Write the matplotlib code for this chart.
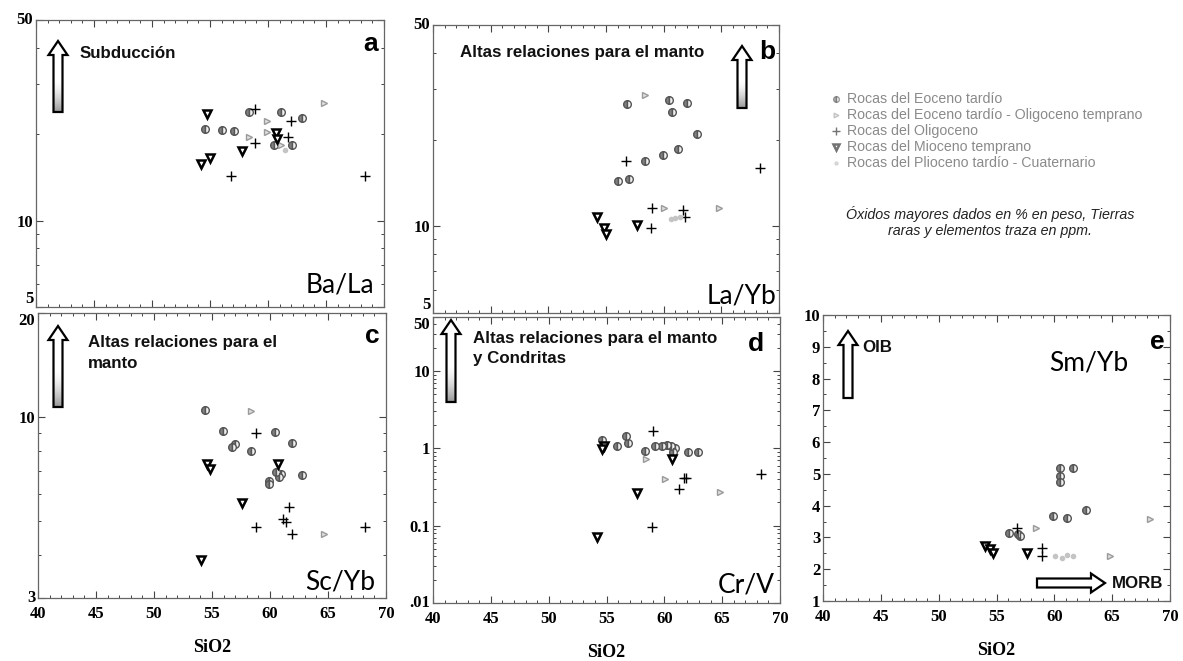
import numpy as np
import matplotlib
matplotlib.use("Agg")
import matplotlib.pyplot as plt
from matplotlib.patches import FancyArrow
from matplotlib.ticker import MultipleLocator, NullFormatter, LogLocator

W, H = 1183, 661

# --- data: (SiO2, ratio) per rock group ---
series_names = ["eoc", "eoc_oli", "oli", "mio", "plio"]
series_labels = [
    "Rocas del Eoceno tardío",
    "Rocas del Eoceno tardío - Oligoceno temprano",
    "Rocas del Oligoceno",
    "Rocas del Mioceno temprano",
    "Rocas del Plioceno tardío - Cuaternario",
]

ba_la = {
    "eoc": ([54.6, 56.05, 57.05, 58.4, 61.15, 62.9, 60.5, 62.1],
            [20.9, 20.7, 20.6, 23.9, 23.9, 22.8, 18.3, 18.3]),
    "eoc_oli": ([58.4, 59.9, 59.9, 61.1, 64.8],
                [19.6, 22.2, 20.4, 18.3, 25.6]),
    "oli": ([56.8, 58.9, 58.9, 62.0, 61.7, 68.4],
            [14.3, 24.4, 18.6, 22.2, 19.6, 14.3]),
    "mio": ([54.76, 54.2, 55.0, 57.8, 60.7, 60.8],
            [23.5, 15.8, 16.5, 17.5, 20.2, 19.2]),
    "plio": ([61.5], [17.6]),
}

la_yb = {
    "eoc": ([56.86, 60.45, 62.0, 60.76, 62.87, 61.2, 59.9, 58.4, 56.0, 57.0],
            [26.5, 27.4, 26.9, 25.0, 20.9, 18.6, 17.7, 16.9, 14.4, 14.6]),
    "eoc_oli": ([58.4, 60.04, 64.83], [28.5, 11.6, 11.6]),
    "oli": ([56.75, 68.36, 58.97, 61.7, 61.86, 58.9],
            [16.9, 16.0, 11.6, 11.4, 10.8, 9.85]),
    "mio": ([54.2, 54.8, 55.0, 57.67], [10.8, 9.9, 9.4, 10.1]),
    "plio": ([60.6, 61.0, 61.4], [10.6, 10.7, 10.8]),
}

sc_yb = {
    "eoc": ([54.36, 55.93, 60.39, 61.9, 56.94, 56.7, 58.37, 60.5, 60.96, 60.76, 59.9, 59.95, 62.77],
            [10.5, 9.1, 9.05, 8.4, 8.35, 8.2, 8.0, 6.93, 6.85, 6.7, 6.55, 6.4, 6.8]),
    "eoc_oli": ([58.37, 64.69], [10.4, 4.6]),
    "oli": ([58.8, 61.62, 61.16, 61.4, 58.8, 61.9, 68.22],
            [9.0, 5.48, 5.06, 4.97, 4.82, 4.6, 4.8]),
    "mio": ([54.6, 54.85, 60.67, 57.6, 54.07], [7.3, 7.1, 7.3, 5.63, 3.86]),
    "plio": ([], []),
}

cr_v = {
    "eoc": ([54.65, 55.9, 56.7, 56.87, 58.3, 59.2, 59.76, 60.2, 60.6, 60.9, 60.75, 62.06, 62.93],
            [1.30, 1.07, 1.44, 1.18, 0.92, 1.07, 1.07, 1.09, 1.07, 1.02, 0.91, 0.91, 0.89]),
    "eoc_oli": ([58.4, 64.8, 60.05], [0.72, 0.27, 0.40]),
    "oli": ([58.98, 68.4, 61.7, 61.86, 61.3, 58.9],
            [1.70, 0.47, 0.415, 0.415, 0.30, 0.096]),
    "mio": ([54.77, 54.65, 60.7, 57.65, 54.19], [1.07, 0.97, 0.72, 0.265, 0.071]),
    "plio": ([], []),
}

sm_yb = {
    "eoc": ([60.5, 60.45, 60.5, 61.65, 62.75, 59.87, 61.08, 56.04, 56.9, 57.05],
            [5.2, 4.94, 4.75, 5.2, 3.87, 3.68, 3.6, 3.13, 3.1, 3.03]),
    "eoc_oli": ([58.43, 68.27, 64.8], [3.31, 3.57, 2.42]),
    "oli": ([56.76, 58.9, 58.9], [3.31, 2.68, 2.42]),
    "mio": ([54.0, 54.45, 54.74, 57.6], [2.73, 2.63, 2.52, 2.5]),
    "plio": ([60.07, 60.65, 61.08, 61.65], [2.42, 2.36, 2.44, 2.42]),
}

styles = {
    "eoc": dict(marker="o", ms=5.5, fillstyle="left", mfc="#808080", mfcalt="#f0f0f0", mec="#555555", mew=1.0),
    "eoc_oli": dict(marker=">", ms=4.5, mfc="#e0e0e0", mec="#9a9a9a", mew=1.0),
    "oli": dict(marker="+", ms=7, mec="black", mew=1.0),
    "mio": dict(marker="v", ms=5.5, mfc="white", mec="black", mew=1.8),
    "plio": dict(marker="o", ms=3, mfc="#c4c4c4", mec="#c4c4c4"),
}

tick_font = dict(family="Liberation Serif", weight="bold", size=12)
sans_bold = "Liberation Sans"


def px_axes(fig, l, t, r, b):
    return fig.add_axes([l / W, 1 - b / H, (r - l) / W, (b - t) / H])


def style_axes(ax, show_x):
    ax.set_xlim(40, 70)
    ax.xaxis.set_major_locator(MultipleLocator(5))
    ax.xaxis.set_minor_locator(MultipleLocator(1))
    ax.tick_params(which="both", direction="in", top=True, right=True, colors="#444444",
                   labelcolor="black", pad=2)
    ax.tick_params(which="major", length=5, width=0.8)
    ax.tick_params(which="minor", length=2.5, width=0.7)
    for s in ax.spines.values():
        s.set_color("#666666")
        s.set_linewidth(0.9)
    if show_x:
        ax.set_xticks([40, 45, 50, 55, 60, 65, 70])
        ax.set_xticklabels(["40", "45", "50", "55", "60", "65", "70"], **tick_font)
        ax.tick_params(axis="x", pad=6)
        ax.set_xlabel("SiO2", family="Liberation Serif", weight="bold", size=13, labelpad=12)
    else:
        ax.tick_params(axis="x", labelbottom=False)


def plot_series(ax, data):
    for name in series_names:
        x, y = data[name]
        ax.plot(x, y, ls="none", color=styles[name].get("mec", "black"), **styles[name])


def log_y(ax, lo, hi, ticks, labels, low_va="center", high_va="center"):
    ax.set_yscale("log")
    ax.set_ylim(lo, hi)
    ax.set_yticks(ticks)
    ax.set_yticklabels(labels, **tick_font)
    ax.yaxis.set_minor_locator(LogLocator(base=10, subs=np.arange(2, 10)))
    ax.yaxis.set_minor_formatter(NullFormatter())
    tl = ax.get_yticklabels()
    tl[0].set_va(low_va)
    tl[-1].set_va(high_va)


fig = plt.figure(figsize=(W / 100, H / 100), dpi=100)

ax_a = px_axes(fig, 36, 20, 384, 307)
ax_b = px_axes(fig, 433, 25, 779, 313)
ax_c = px_axes(fig, 38, 313, 386, 598)
ax_d = px_axes(fig, 433, 317, 780, 603)
ax_e = px_axes(fig, 823, 315, 1170, 601)

plot_series(ax_a, ba_la)
log_y(ax_a, 5, 50, [5, 10, 50], ["5", "10", "50"], low_va="bottom")
style_axes(ax_a, False)

plot_series(ax_b, la_yb)
log_y(ax_b, 5, 50, [5, 10, 50], ["5", "10", "50"], low_va="bottom")
style_axes(ax_b, False)

plot_series(ax_c, sc_yb)
log_y(ax_c, 3, 20, [3, 10, 20], ["3", "10", "20"], high_va="top")
style_axes(ax_c, True)

plot_series(ax_d, cr_v)
log_y(ax_d, 0.01, 50, [0.01, 0.1, 1, 10, 50], [".01", "0.1", "1", "10", "50"], high_va="top")
style_axes(ax_d, True)

plot_series(ax_e, sm_yb)
ax_e.set_ylim(1, 10)
ax_e.set_yticks(range(1, 11))
ax_e.set_yticklabels([str(v) for v in range(1, 11)], **tick_font)
ax_e.yaxis.set_minor_locator(MultipleLocator(0.5))
style_axes(ax_e, True)

# --- overlay in pixel coordinates for arrows, labels, legend ---
ov = fig.add_axes([0, 0, 1, 1])
ov.set_xlim(0, W)
ov.set_ylim(H, 0)
ov.axis("off")

grad = np.linspace(0, 1, 64).reshape(-1, 1)


def hollow_arrow(x0, y0, x1, y1, gradient=True):
    dx, dy = x1 - x0, y1 - y0
    kw = dict(width=9, head_width=19, head_length=14, length_includes_head=True)
    base = FancyArrow(x0, y0, dx, dy, fc="white", ec="none", zorder=2, **kw)
    ov.add_patch(base)
    if gradient:
        # grey near the tail fading to white toward the head
        g = np.clip((grad - 0.55) / 0.45, 0, 1) ** 1.5
        im = ov.imshow(1 - 0.4 * g, cmap="gray", vmin=0, vmax=1, aspect="auto",
                       extent=[x0 - 10, x0 + 10, y0, y1], origin="upper", zorder=2.5)
        im.set_clip_path(base)
    ov.add_patch(FancyArrow(x0, y0, dx, dy, fc="none", ec="black", lw=1.6, zorder=3, **kw))


hollow_arrow(58, 112, 58, 41)
hollow_arrow(742, 108, 742, 46)
hollow_arrow(58, 407, 58, 326)
hollow_arrow(451, 402, 451, 320)
hollow_arrow(848, 398, 848, 331, gradient=False)
hollow_arrow(1037, 583, 1105, 583, gradient=False)
ov.set_xlim(0, W)
ov.set_ylim(H, 0)

ann = dict(family=sans_bold, weight="bold", size=12.2, va="center", ha="left", color="#111111")
ov.text(80, 53, "Subducción", **ann)
ov.text(460, 53, "Altas relaciones para el manto", **ann)
ov.text(88, 343, "Altas relaciones para el", **ann)
ov.text(88, 364, "manto", **ann)
ov.text(473, 338, "Altas relaciones para el manto", **ann)
ov.text(473, 359, "y Condritas", **ann)
ov.text(862, 347, "OIB", **ann)
ov.text(1112, 583, "MORB", **ann)

let = dict(family=sans_bold, weight="bold", size=19, va="center", ha="center", color="black")
ov.text(371, 44, "a", **let)
ov.text(767, 52, "b", **let)
ov.text(372, 336, "c", **let)
ov.text(756, 344, "d", **let)
ov.text(1157, 342, "e", **let)

rat = dict(family="Lato", size=19, va="center", ha="right", color="black")
ov.text(374, 285, "Ba/La", **rat)
ov.text(776, 296, "La/Yb", **rat)
ov.text(375, 582, "Sc/Yb", **rat)
ov.text(775, 585, "Cr/V", **rat)
ov.text(1128, 363, "Sm/Yb", **rat)

# legend
leg_y = [99, 115, 131, 147, 163]
for name, label, yy in zip(series_names, series_labels, leg_y):
    st = dict(styles[name])
    st["ms"] = st["ms"] * 0.75
    ov.plot([836], [yy], ls="none", alpha=0.55, **st)
    ov.text(847, yy, label, family="Liberation Sans", size=10.2, color="#8a8a8a", va="center", ha="left")

note = dict(family="Liberation Sans", style="italic", size=10.3, color="#222222", ha="center", va="center")
ov.text(990, 214, "Óxidos mayores dados en % en peso, Tierras", **note)
ov.text(990, 231, "raras y elementos traza en ppm.", **note)

fig.savefig("out.png", dpi=100)
